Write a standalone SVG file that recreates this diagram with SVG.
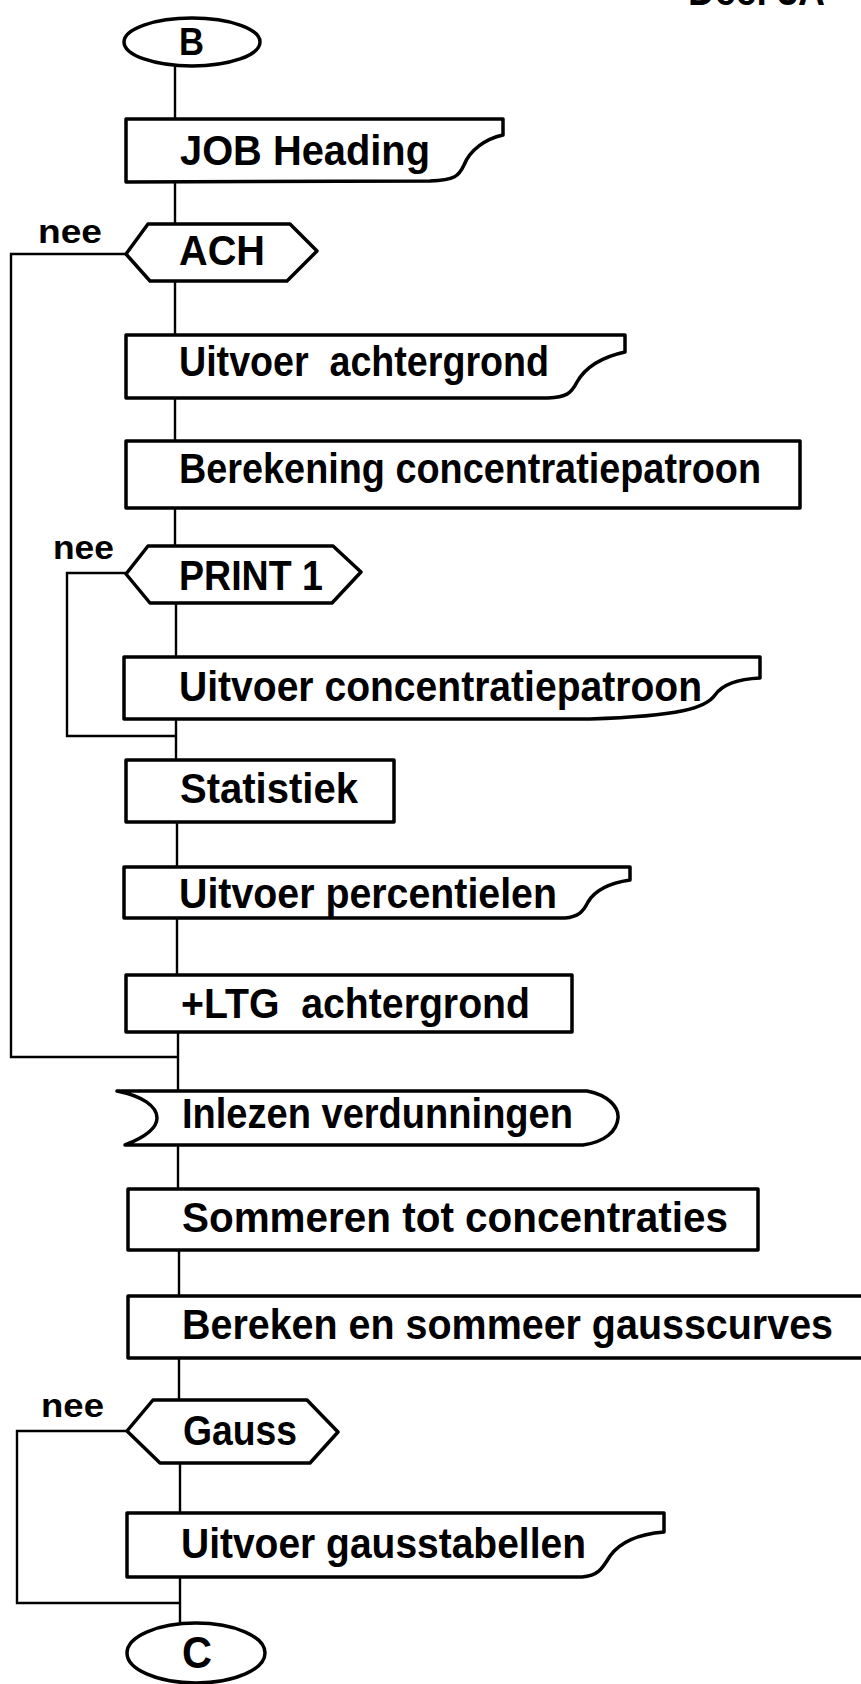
<svg xmlns="http://www.w3.org/2000/svg" width="861" height="1684" viewBox="0 0 861 1684">
<style>
.s{fill:#fff;stroke:#000;stroke-width:3.5;stroke-linejoin:round}
.c{fill:none;stroke:#000;stroke-width:2.4}
text{font-family:"Liberation Sans",Arial,sans-serif;font-weight:bold;fill:#000;font-size:43px}
.n{font-size:33px}
</style>
<rect width="861" height="1684" fill="#fff"/>
<g id="connectors">
<path class="c" d="M175,65V119M175,182V224M175,281V335M175,398V441M175,508V546M176,603V657M176,719V760M177,822V867M177,918V975M178,1032V1091M178,1145V1189M179,1250V1296M179,1358V1400M180,1463V1513M180,1577V1624"/>
<polyline class="c" points="126,254 11,254 11,1057 178,1057"/>
<polyline class="c" points="126,573 67,573 67,736 176,736"/>
<polyline class="c" points="127,1431 17,1431 17,1603 180,1603"/>
</g>
<g id="label-deel"><text x="688" y="5" textLength="137" lengthAdjust="spacingAndGlyphs">Deel 3A</text></g>
<g id="node-B">
<ellipse class="s" cx="192" cy="42" rx="68" ry="24"/>
<text x="179" y="55" style="font-size:38px" textLength="25" lengthAdjust="spacingAndGlyphs">B</text>
</g>
<g id="node-job">
<path class="s" d="M126,119L503,119L503,135C485,139 470,150 464,165C459,176 455,180 430,181L126,182Z"/>
<text x="180" y="165" textLength="250" lengthAdjust="spacingAndGlyphs">JOB Heading</text>
</g>
<g id="node-ach">
<polygon class="s" points="126,254 148,224 290,224 317,251 287,281 150,281"/>
<text x="179" y="265" textLength="86" lengthAdjust="spacingAndGlyphs">ACH</text>
<text class="n" x="38" y="243" textLength="64" lengthAdjust="spacingAndGlyphs">nee</text>
</g>
<g id="node-uitvoer-achtergrond">
<path class="s" d="M126,335L625,335L625,352C602,357 585,368 577,382C571,394 566,397 548,398L126,398Z"/>
<text x="179" y="376" xml:space="preserve" textLength="370" lengthAdjust="spacingAndGlyphs">Uitvoer  achtergrond</text>
</g>
<g id="node-berekening">
<rect class="s" x="126" y="441" width="674" height="67"/>
<text x="179" y="483" textLength="582" lengthAdjust="spacingAndGlyphs">Berekening concentratiepatroon</text>
</g>
<g id="node-print1">
<polygon class="s" points="126,574 148,546 333,546 361,572 332,603 150,603"/>
<text x="179" y="590" textLength="144" lengthAdjust="spacingAndGlyphs">PRINT 1</text>
<text class="n" x="53" y="559" textLength="61" lengthAdjust="spacingAndGlyphs">nee</text>
</g>
<g id="node-uitvoer-conc">
<path class="s" d="M124,657L760,657L760,678C738,679 722,685 715,695C706,708 680,716 590,719L124,719Z"/>
<text x="179" y="701" textLength="523" lengthAdjust="spacingAndGlyphs">Uitvoer concentratiepatroon</text>
</g>
<g id="node-statistiek">
<rect class="s" x="126" y="760" width="268" height="62"/>
<text x="180" y="803" textLength="178" lengthAdjust="spacingAndGlyphs">Statistiek</text>
</g>
<g id="node-percentielen">
<path class="s" d="M124,867L630,867L630,880C610,883 595,890 588,902C583,912 578,917 565,918L124,918Z"/>
<text x="179" y="908" textLength="378" lengthAdjust="spacingAndGlyphs">Uitvoer percentielen</text>
</g>
<g id="node-ltg">
<rect class="s" x="126" y="975" width="446" height="57"/>
<text x="181" y="1018" xml:space="preserve" textLength="349" lengthAdjust="spacingAndGlyphs">+LTG  achtergrond</text>
</g>
<g id="node-inlezen">
<path class="s" d="M117,1091L587,1091C608,1095 619,1107 618,1118C617,1131 605,1142 583,1145L125,1145C148,1136 157,1127 157,1118C157,1106 142,1096 117,1091Z"/>
<text x="182" y="1128" textLength="391" lengthAdjust="spacingAndGlyphs">Inlezen verdunningen</text>
</g>
<g id="node-sommeren">
<rect class="s" x="128" y="1189" width="630" height="61"/>
<text x="182" y="1232" textLength="546" lengthAdjust="spacingAndGlyphs">Sommeren tot concentraties</text>
</g>
<g id="node-bereken-gauss">
<rect class="s" x="128" y="1296" width="800" height="62"/>
<text x="182" y="1339" textLength="651" lengthAdjust="spacingAndGlyphs">Bereken en sommeer gausscurves</text>
</g>
<g id="node-gauss">
<polygon class="s" points="127,1431 153,1400 307,1400 338,1432 310,1463 160,1463"/>
<text x="183" y="1445" textLength="114" lengthAdjust="spacingAndGlyphs">Gauss</text>
<text class="n" x="41" y="1417" textLength="63" lengthAdjust="spacingAndGlyphs">nee</text>
</g>
<g id="node-uitvoer-gauss">
<path class="s" d="M127,1513L664,1513L664,1532C640,1534 620,1542 610,1556C602,1569 598,1576 582,1577L127,1577Z"/>
<text x="181" y="1558" textLength="405" lengthAdjust="spacingAndGlyphs">Uitvoer gausstabellen</text>
</g>
<g id="node-C">
<ellipse class="s" cx="196" cy="1653" rx="69" ry="30"/>
<text x="182" y="1668" style="font-size:45px" textLength="30" lengthAdjust="spacingAndGlyphs">C</text>
</g>
</svg>
